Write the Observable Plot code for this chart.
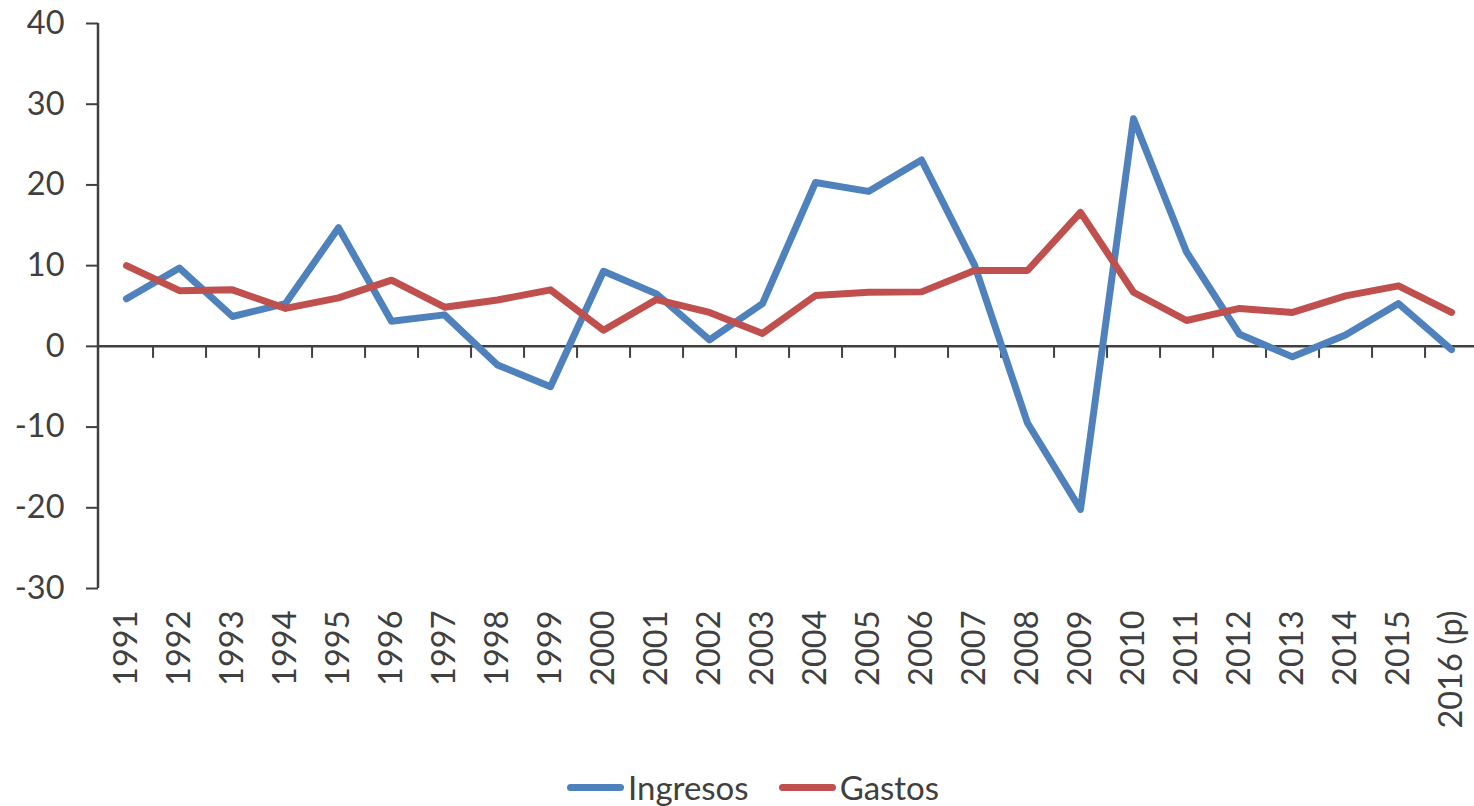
<!DOCTYPE html>
<html>
<head>
<meta charset="utf-8">
<script src="https://cdn.jsdelivr.net/npm/d3@7"></script>
<script src="https://cdn.jsdelivr.net/npm/@observablehq/plot@0.6"></script>
<style>
  html, body { margin: 0; padding: 0; background: #fff; }
  body { width: 1474px; height: 806px; position: relative; overflow: hidden; font-family: Lato, "Open Sans", sans-serif; }
  #chart svg { display: block; }
  #legend { position: absolute; left: 567px; top: 767px; height: 40px; display: flex; align-items: center; font-size: 33px; color: #404040; }
  .item { display: flex; align-items: center; }
  .swatch { width: 57px; height: 7px; border-radius: 4px; margin-right: 4px; }
</style>
</head>
<body>
<div id="chart"></div>
<div id="legend"></div>
<script>
const years = ["1991","1992","1993","1994","1995","1996","1997","1998","1999","2000","2001","2002","2003","2004","2005","2006","2007","2008","2009","2010","2011","2012","2013","2014","2015","2016 (p)"];
const ingresos = [5.9, 9.7, 3.7, 5.3, 14.7, 3.1, 3.9, -2.3, -5.0, 9.3, 6.5, 0.8, 5.3, 20.3, 19.2, 23.1, 10.1, -9.5, -20.2, 28.2, 11.7, 1.5, -1.3, 1.4, 5.3, -0.4];
const gastos = [10.0, 6.9, 7.0, 4.7, 6.0, 8.2, 4.85, 5.75, 7.0, 2.0, 5.8, 4.2, 1.6, 6.3, 6.7, 6.75, 9.4, 9.4, 16.6, 6.7, 3.2, 4.7, 4.2, 6.25, 7.5, 4.2];
const seriesNames = ["Ingresos", "Gastos"];
const seriesColors = ["#4F81BD", "#C0504D"];
const yTicks = [-30, -20, -10, 0, 10, 20, 30, 40];

const data = [];
years.forEach((y, i) => {
  data.push({year: y, series: "Ingresos", value: ingresos[i]});
  data.push({year: y, series: "Gastos", value: gastos[i]});
});

const xLeft = 98, xRight = 1479;
const step = (xRight - xLeft) / years.length;
const ink = "#404040";

const chart = Plot.plot({
  width: 1474,
  height: 767,
  marginLeft: xLeft,
  marginRight: 0,
  marginTop: 23,
  marginBottom: 767 - 588,
  style: {fontFamily: "Lato, 'Open Sans', sans-serif", fontSize: "32.5px", color: ink, background: "#fff"},
  x: {type: "point", domain: years, range: [xLeft, xRight], padding: 0.5},
  y: {domain: [-30, 40]},
  color: {domain: seriesNames, range: seriesColors},
  marks: [
    Plot.axisY({ticks: yTicks, tickSize: 12, tickPadding: 22, tickFormat: d => String(d), label: null, stroke: ink, strokeWidth: 2, fill: ink}),
    Plot.axisX({tickSize: 0, tickPadding: 22, tickRotate: -90, label: null, fill: ink}),
    Plot.ruleY([0], {stroke: ink, strokeWidth: 2.5}),
    Plot.ruleX(years.slice(0, -1), {x: d => d, y1: 0, y2: 0, insetBottom: -12, dx: step / 2, stroke: ink, strokeWidth: 2}),
    Plot.line(data, {x: "year", y: "value", z: "series", stroke: "series", strokeWidth: 7, strokeLinejoin: "round", strokeLinecap: "round"})
  ]
});
document.getElementById("chart").appendChild(chart);

// y axis line at the left edge of the frame
d3.select(chart).append("line")
  .attr("x1", xLeft).attr("x2", xLeft)
  .attr("y1", 23).attr("y2", 588)
  .attr("stroke", ink).attr("stroke-width", 2.5);

const legend = document.getElementById("legend");
seriesNames.forEach((name, i) => {
  const item = document.createElement("div");
  item.className = "item";
  item.style.marginRight = i === 0 ? "30px" : "0";
  const sw = document.createElement("div");
  sw.className = "swatch";
  sw.style.background = seriesColors[i];
  const t = document.createElement("span");
  t.textContent = name;
  item.appendChild(sw);
  item.appendChild(t);
  legend.appendChild(item);
});
</script>
</body>
</html>
